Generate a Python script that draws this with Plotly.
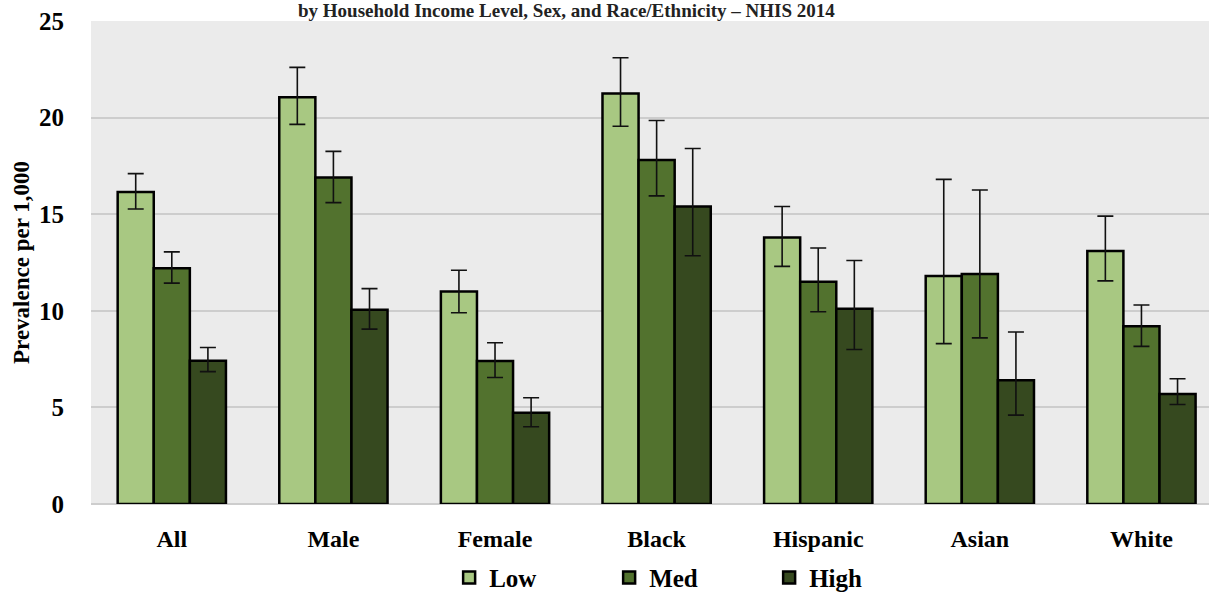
import plotly.graph_objects as go

# Prevalence per 1,000 by income level, with 95% confidence limits
categories = ["All", "Male", "Female", "Black", "Hispanic", "Asian", "White"]

low_vals  = [16.15, 21.05, 11.0, 21.25, 13.8, 11.8, 13.1]
low_upper = [17.1, 22.6, 12.1, 23.1, 15.4, 16.8, 14.9]
low_lower = [15.27, 19.65, 9.9, 19.55, 12.3, 8.3, 11.55]

med_vals  = [12.2, 16.9, 7.4, 17.8, 11.5, 11.9, 9.2]
med_upper = [13.05, 18.25, 8.35, 19.85, 13.25, 16.25, 10.3]
med_lower = [11.43, 15.6, 6.55, 15.95, 9.95, 8.6, 8.16]

high_vals  = [7.42, 10.05, 4.72, 15.4, 10.1, 6.4, 5.7]
high_upper = [8.1, 11.15, 5.5, 18.4, 12.6, 8.9, 6.48]
high_lower = [6.85, 9.05, 4.0, 12.85, 8.0, 4.6, 5.15]

series = [
    ("Low", low_vals, low_upper, low_lower, "#a8c882"),
    ("Med", med_vals, med_upper, med_lower, "#52722e"),
    ("High", high_vals, high_upper, high_lower, "#36491f"),
]

FONT = "Liberation Serif"

fig = go.Figure()
for name, vals, upper, lower, color in series:
    fig.add_trace(go.Bar(
        name=f"<b>{name}</b>",
        x=categories,
        y=vals,
        marker=dict(color=color, line=dict(color="black", width=2.5)),
        error_y=dict(
            type="data",
            symmetric=False,
            array=[u - v for u, v in zip(upper, vals)],
            arrayminus=[v - l for v, l in zip(vals, lower)],
            color="#111111",
            thickness=1.6,
            width=8,
        ),
    ))

fig.add_annotation(
    text="<b>by Household Income Level, Sex, and Race/Ethnicity \u2013 NHIS 2014</b>",
    xref="paper", yref="paper", x=0.425, y=1.0, xanchor="center", yanchor="bottom",
    yshift=-2, showarrow=False,
    font=dict(family=FONT, size=19, color="#222222"),
)

fig.update_layout(
    width=1209, height=601,
    margin=dict(l=91, r=0, t=21, b=93),
    paper_bgcolor="white",
    plot_bgcolor="#ebebeb",
    barmode="group",
    bargap=0.33,
    bargroupgap=0,
    font=dict(family=FONT, color="black"),
    legend=dict(
        orientation="h", x=0.535, xanchor="center", y=-0.105, yanchor="top",
        font=dict(family=FONT, size=25, color="black"),
        entrywidth=115, traceorder="normal",
        itemwidth=30,
    ),
    showlegend=True,
)

fig.update_xaxes(
    range=[-0.5, 6.418],
    showgrid=False, showline=False, zeroline=False,
    ticks="", ticklabelstandoff=18,
    tickfont=dict(family=FONT, size=24, color="black"),
    tickprefix="<b>", ticksuffix="</b>",
)

fig.update_yaxes(
    range=[0, 25], dtick=5,
    showgrid=True, gridcolor="#cdcdcd", gridwidth=2,
    zeroline=True, zerolinecolor="#cdcdcd", zerolinewidth=2,
    showline=False, ticks="", ticklabelstandoff=26,
    tickfont=dict(family=FONT, size=25, color="black"),
    tickprefix="<b>", ticksuffix="</b>",
    title=dict(text="<b>Prevalence per 1,000</b>", font=dict(family=FONT, size=23, color="black"),
               standoff=2),
)

fig.write_html("out.html")
